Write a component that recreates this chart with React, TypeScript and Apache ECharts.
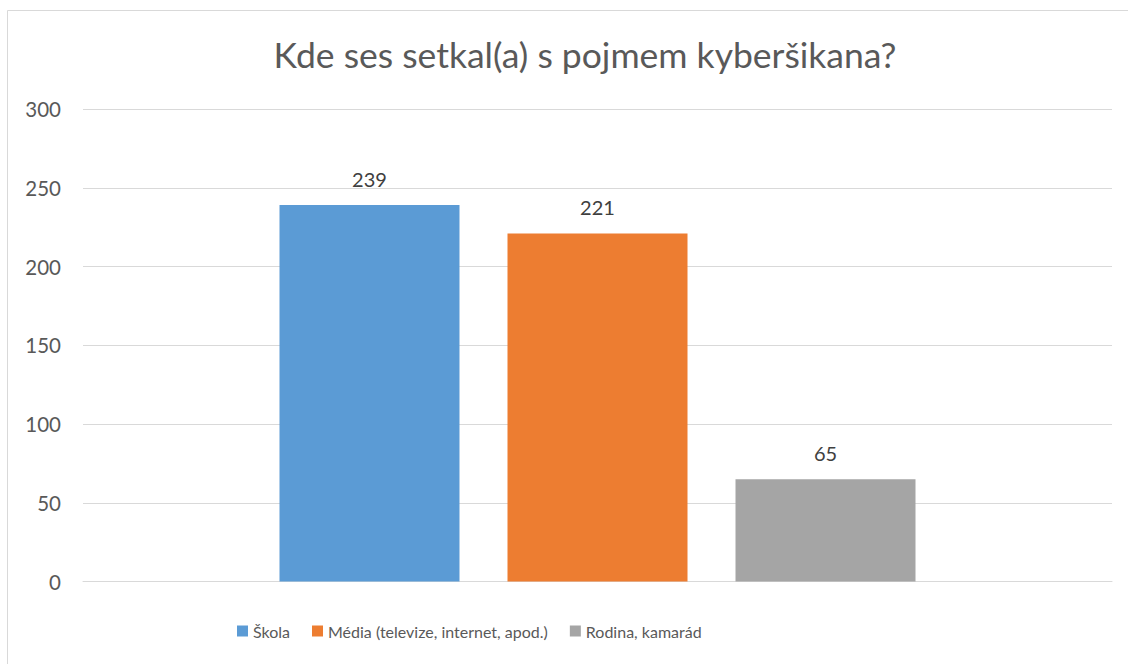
import React, { useEffect, useRef } from "react";
import * as echarts from "echarts";

const titleText = "Kde ses setkal(a) s pojmem kyberšikana?";
const categories = [""];
const seriesNames = ["Škola", "Média (televize, internet, apod.)", "Rodina, kamarád"];
const seriesValues = [239, 221, 65];
const seriesColors = ["#5B9BD5", "#ED7D31", "#A5A5A5"];
const yMin = 0;
const yMax = 300;
const yInterval = 50;

const FONT = "Lato, 'Noto Sans', sans-serif";

export default function App() {
  const ref = useRef<HTMLDivElement>(null);
  useEffect(() => {
    if (!ref.current) return;
    const chart = echarts.init(ref.current, undefined, { renderer: "svg" });
    chart.setOption({
      animation: false,
      backgroundColor: "#ffffff",
      textStyle: { fontFamily: FONT },
      title: {
        text: titleText,
        left: 580,
        textAlign: "center",
        top: 31,
        textStyle: { fontFamily: FONT, fontSize: 35.5, fontWeight: "normal", color: "#595959" },
      },
      graphic: [
        {
          type: "rect",
          shape: { x: 7.5, y: 10.5, width: 1130, height: 660 },
          style: { fill: "none", stroke: "#D9D9D9", lineWidth: 1 },
          silent: true,
        },
      ],
      legend: {
        bottom: 20,
        left: 232,
        itemWidth: 11,
        itemHeight: 11,
        itemGap: 22,
        icon: "rect",
        textStyle: { fontFamily: FONT, fontSize: 16, color: "#595959" },
        data: seriesNames,
      },
      grid: { left: 83, right: 16, top: 109, bottom: 82.5, containLabel: false },
      xAxis: {
        type: "category",
        data: categories,
        axisLine: { show: true, lineStyle: { color: "#D9D9D9", width: 1 } },
        axisTick: { show: false },
        axisLabel: { show: false },
      },
      yAxis: {
        type: "value",
        min: yMin,
        max: yMax,
        interval: yInterval,
        axisLine: { show: false },
        axisTick: { show: false },
        axisLabel: { fontFamily: FONT, fontSize: 20.5, color: "#595959", margin: 22 },
        splitLine: { lineStyle: { color: "#D9D9D9", width: 1 } },
      },
      series: seriesNames.map((name, i) => ({
        name,
        type: "bar",
        data: [seriesValues[i]],
        barWidth: 180,
        barGap: "26.67%",
        itemStyle: { color: seriesColors[i] },
        label: {
          show: true,
          position: "top",
          distance: 16,
          fontFamily: FONT,
          fontSize: 20,
          color: "#404040",
        },
      })),
    });
    return () => chart.dispose();
  }, []);
  return (
    <div
      ref={ref}
      style={{ position: "fixed", left: 0, top: 0, width: 1128, height: 664 }}
    />
  );
}
